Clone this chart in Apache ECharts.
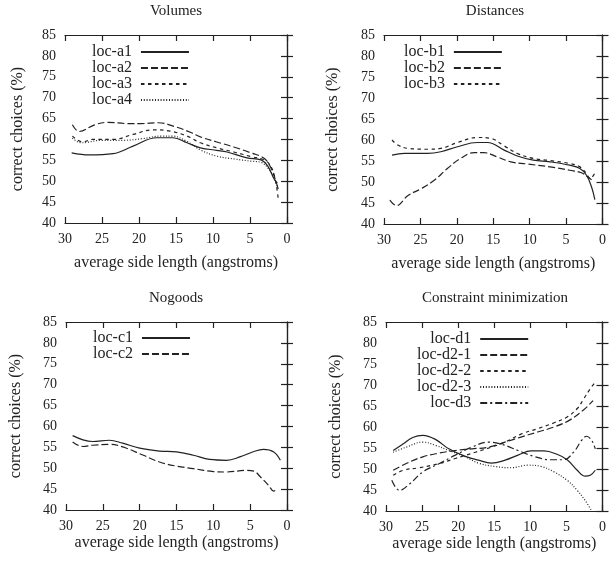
<!DOCTYPE html>
<html>
<head>
<meta charset="utf-8">
<script src="https://cdn.jsdelivr.net/npm/echarts@6/dist/echarts.min.js"></script>
<style>
html, body { margin: 0; padding: 0; background: #fff; }
#main { width: 609px; height: 563px; }
</style>
</head>
<body>
<div id="main"></div>
<script>
// panel titles and legend names
var titles = ['Volumes', 'Distances', 'Nogoods', 'Constraint minimization'];
var namesA = ['loc-a1', 'loc-a2', 'loc-a3', 'loc-a4'];
var namesB = ['loc-b1', 'loc-b2', 'loc-b3'];
var namesC = ['loc-c1', 'loc-c2'];
var namesD = ['loc-d1', 'loc-d2-1', 'loc-d2-2', 'loc-d2-3', 'loc-d3'];

// Volumes
var a1X = [29.1, 26.7, 23.5, 20.8, 17.6, 15.4, 13.5, 11.7, 9.5, 8.1, 5.4, 3.5, 2.6, 1.7, 1.3];
var a1Y = [56.8, 56.3, 56.6, 58.4, 60.4, 60.4, 59.2, 58.0, 57.4, 57.0, 55.6, 55.1, 53.6, 50.4, 49.6];
var a2X = [29.0, 28.1, 26.0, 24.2, 21.5, 19.7, 17.4, 15.2, 12.9, 11.7, 9.5, 7.2, 4.9, 3.1, 2.2, 1.5, 1.1];
var a2Y = [63.5, 61.9, 63.5, 64.1, 63.8, 63.8, 64.0, 63.1, 61.6, 60.6, 59.4, 58.2, 56.8, 55.5, 53.3, 50.0, 47.5];
var a3X = [29.0, 27.6, 26.3, 23.5, 20.8, 18.1, 15.8, 13.5, 11.7, 9.5, 7.2, 4.9, 3.1, 2.2, 1.6, 1.2];
var a3Y = [60.8, 59.4, 60.0, 60.0, 61.2, 62.3, 62.0, 60.8, 59.2, 58.0, 57.0, 55.9, 55.1, 53.6, 50.5, 46.0];
var a4X = [29.0, 27.8, 25.0, 22.0, 19.5, 17.0, 15.5, 13.5, 11.7, 9.5, 7.0, 4.9, 3.5, 2.5, 1.8, 1.3];
var a4Y = [60.3, 59.2, 59.8, 59.8, 60.2, 60.8, 60.8, 59.5, 57.5, 56.0, 55.3, 54.8, 54.5, 53.0, 51.0, 48.5];

// Distances
var b1X = [28.9, 27.2, 24.0, 22.2, 19.9, 17.2, 15.8, 13.5, 11.7, 9.5, 7.2, 4.5, 3.1, 2.2, 1.5, 1.05];
var b1Y = [56.4, 56.8, 56.8, 57.2, 58.4, 59.4, 59.4, 57.6, 56.2, 55.2, 54.8, 54.0, 53.2, 51.6, 48.8, 45.8];
var b2X = [29.2, 28.3, 26.7, 24.9, 23.1, 21.3, 19.5, 17.6, 16.3, 14.5, 12.6, 10.4, 7.2, 4.5, 2.9, 2.0, 1.5];
var b2Y = [45.7, 44.4, 46.8, 48.4, 50.4, 53.2, 55.6, 57.0, 57.0, 56.0, 54.8, 54.3, 53.6, 52.8, 52.2, 51.2, 50.5];
var b3X = [28.9, 28.1, 26.7, 24.0, 22.2, 19.9, 17.2, 15.4, 13.5, 11.7, 9.5, 7.2, 4.5, 3.1, 2.2, 1.7, 1.1];
var b3Y = [60.0, 58.8, 58.0, 57.8, 58.0, 59.4, 60.6, 60.4, 58.6, 56.8, 55.6, 55.1, 54.4, 53.6, 52.0, 50.8, 52.0];

// Nogoods
var c1X = [29.1, 27.7, 26.4, 24.1, 22.3, 20.0, 17.3, 15.0, 12.7, 10.5, 8.2, 6.4, 4.5, 3.2, 1.8, 0.9];
var c1Y = [57.8, 56.8, 56.4, 56.7, 56.0, 54.8, 54.1, 53.9, 53.1, 52.1, 51.9, 52.7, 54.0, 54.5, 53.9, 51.9];
var c2X = [29.1, 27.7, 26.4, 24.1, 22.3, 19.5, 17.3, 15.0, 12.7, 10.0, 8.2, 5.5, 4.5, 3.6, 2.5, 1.8, 1.4];
var c2Y = [56.3, 55.2, 55.5, 55.7, 55.1, 53.1, 51.5, 50.5, 49.9, 49.2, 49.1, 49.5, 49.3, 47.9, 45.9, 44.5, 44.9];

// Constraint minimization
var d1X = [29.0, 27.6, 26.3, 24.9, 23.1, 21.3, 19.0, 17.2, 15.4, 13.5, 11.7, 9.9, 8.1, 6.3, 4.9, 3.5, 2.4, 1.7, 1.0];
var d1Y = [54.4, 56.0, 57.5, 58.0, 57.0, 54.8, 53.0, 52.1, 51.4, 52.1, 53.3, 54.3, 54.3, 53.5, 52.2, 49.7, 48.3, 48.5, 49.7];
var d21X = [29.0, 27.2, 24.9, 22.6, 20.4, 18.1, 15.8, 13.5, 11.3, 9.0, 6.7, 4.5, 2.6, 1.3];
var d21Y = [49.7, 51.3, 52.9, 53.8, 54.4, 54.8, 55.2, 56.4, 57.6, 58.8, 60.0, 61.7, 64.1, 66.3];
var d22X = [29.0, 27.6, 25.4, 22.6, 20.4, 17.6, 15.4, 13.5, 11.3, 9.0, 6.7, 4.9, 3.5, 2.6, 1.7, 1.0];
var d22Y = [48.5, 49.7, 50.3, 51.3, 52.5, 54.0, 55.2, 56.4, 58.3, 59.6, 61.0, 62.4, 64.4, 66.7, 69.1, 70.7];
var d23X = [29.0, 27.2, 24.9, 23.1, 21.3, 19.0, 17.2, 14.9, 12.6, 10.4, 8.5, 6.7, 4.9, 3.5, 2.4, 1.5];
var d23Y = [54.0, 55.2, 56.4, 55.6, 54.4, 52.9, 51.4, 50.6, 50.3, 50.9, 50.6, 49.3, 47.3, 44.9, 42.5, 40.0];
var d3X = [29.2, 28.1, 26.7, 24.9, 22.6, 20.4, 18.1, 15.8, 14.0, 11.7, 9.5, 7.2, 5.4, 4.0, 2.9, 2.2, 1.5, 1.0];
var d3Y = [47.3, 44.9, 46.5, 49.3, 51.3, 53.3, 55.2, 56.4, 55.9, 54.4, 53.0, 52.2, 52.2, 54.0, 56.8, 57.8, 56.8, 54.8];

var ink = '#222';
var serif = 'Liberation Serif';
var SOLID = 'solid';
var LONG = [7, 3];
var SHORT = [3.5, 3.5];
var DOT = [1, 1.8];
var DASHDOT = [7, 3, 2, 3];

var grids = [
    { left: 65, top: 35, width: 222, height: 188 },
    { left: 384, top: 35, width: 221, height: 189 },
    { left: 66, top: 322, width: 221, height: 188 },
    { left: 386, top: 322, width: 220, height: 189 }
];

function mkLine(name, xs, ys, idx, dash) {
    var pts = [];
    for (var i = 0; i < xs.length; i++) {
        pts.push([xs[i], ys[i]]);
    }
    return {
        name: name,
        type: 'line',
        xAxisIndex: idx,
        yAxisIndex: idx,
        data: pts,
        smooth: 0.4,
        symbol: 'none',
        itemStyle: { color: ink },
        lineStyle: { color: ink, width: 1.2, type: dash }
    };
}

var xAxes = [], yAxes = [];
var xNameGap = [32, 32, 25, 25];
var yNameGap = [39, 43, 42, 42];
for (var g = 0; g < 4; g++) {
    xAxes.push({
        type: 'value', gridIndex: g, min: 0, max: 30, interval: 5, inverse: true,
        name: 'average side length (angstroms)', nameLocation: 'middle', nameGap: xNameGap[g],
        nameTextStyle: { fontFamily: serif, fontSize: 16, color: ink },
        axisLine: { lineStyle: { color: ink, width: 1.2 } },
        axisTick: { inside: true, length: 6, lineStyle: { color: ink, width: 1.2 } },
        axisLabel: { fontFamily: serif, fontSize: 14, color: ink, margin: 9 },
        splitLine: { show: false }
    });
    yAxes.push({
        type: 'value', gridIndex: g, min: 40, max: 85, interval: 5,
        name: 'correct choices (%)', nameLocation: 'middle', nameGap: yNameGap[g],
        nameTextStyle: { fontFamily: serif, fontSize: 16, color: ink },
        axisLine: { lineStyle: { color: ink, width: 1.2 } },
        axisTick: { inside: true, length: 6, lineStyle: { color: ink, width: 1.2 } },
        axisLabel: { fontFamily: serif, fontSize: 14, color: ink, margin: 9 },
        splitLine: { show: false }
    });
}
// mirrored ticks on top and right
for (var g = 0; g < 4; g++) {
    xAxes.push({
        type: 'value', gridIndex: g, min: 0, max: 30, interval: 5, inverse: true, position: 'top',
        axisLine: { lineStyle: { color: ink, width: 1.2 } },
        axisTick: { inside: true, length: 6, lineStyle: { color: ink, width: 1.2 } },
        axisLabel: { show: false },
        splitLine: { show: false }
    });
    yAxes.push({
        type: 'value', gridIndex: g, min: 40, max: 85, interval: 5, position: 'right',
        axisLine: { lineStyle: { color: ink, width: 1.2 } },
        axisTick: { inside: true, length: 6, lineStyle: { color: ink, width: 1.2 } },
        axisLabel: { show: false },
        splitLine: { show: false }
    });
}

var titleCfg = [
    { x: 176, y: 4 }, { x: 495, y: 4 }, { x: 176, y: 291 }, { x: 495, y: 291 }
];
var title = [];
for (var t = 0; t < 4; t++) {
    title.push({
        text: titles[t], left: titleCfg[t].x, top: titleCfg[t].y, textAlign: 'center', padding: 0,
        textStyle: { fontFamily: serif, fontSize: 15, fontWeight: 'normal', color: ink }
    });
}

function mkLegend(names, left, top, lh) {
    return {
        data: names, orient: 'vertical', align: 'right', left: left, top: top, padding: 0,
        itemGap: 0, itemWidth: 48, itemHeight: 10,
        itemStyle: { color: 'rgba(0,0,0,0)', borderWidth: 0, opacity: 0 }, // hide the dot, keep the line
        textStyle: { fontFamily: serif, fontSize: 16, color: ink, lineHeight: lh, padding: [0, 4, 0, 0] }
    };
}

var option = {
    animation: false,
    backgroundColor: '#fff',
    title: title,
    grid: grids,
    xAxis: xAxes,
    yAxis: yAxes,
    legend: [
        mkLegend(namesA, 92, 44, 16),
        mkLegend(namesB, 404, 44, 16),
        mkLegend(namesC, 93, 330, 16),
        mkLegend(namesD, 417, 331, 14)
    ],
    series: [
        mkLine(namesA[0], a1X, a1Y, 0, SOLID),
        mkLine(namesA[1], a2X, a2Y, 0, LONG),
        mkLine(namesA[2], a3X, a3Y, 0, SHORT),
        mkLine(namesA[3], a4X, a4Y, 0, DOT),
        mkLine(namesB[0], b1X, b1Y, 1, SOLID),
        mkLine(namesB[1], b2X, b2Y, 1, LONG),
        mkLine(namesB[2], b3X, b3Y, 1, SHORT),
        mkLine(namesC[0], c1X, c1Y, 2, SOLID),
        mkLine(namesC[1], c2X, c2Y, 2, LONG),
        mkLine(namesD[0], d1X, d1Y, 3, SOLID),
        mkLine(namesD[1], d21X, d21Y, 3, LONG),
        mkLine(namesD[2], d22X, d22Y, 3, SHORT),
        mkLine(namesD[3], d23X, d23Y, 3, DOT),
        mkLine(namesD[4], d3X, d3Y, 3, DASHDOT)
    ]
};

var chart = echarts.init(document.getElementById('main'));
chart.setOption(option);
</script>
</body>
</html>
